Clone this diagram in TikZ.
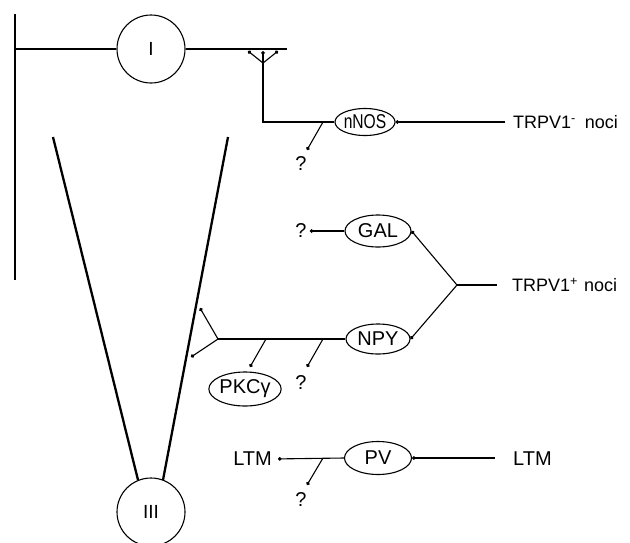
\documentclass[tikz,border=0pt]{standalone}
\usepackage{fontspec}
\setmainfont{Liberation Sans}
\usetikzlibrary{arrows.meta,shapes.geometric}
\begin{document}
\begin{tikzpicture}[x=1pt,y=-1pt,
  lbl/.style={font=\fontsize{20}{24}\selectfont, inner sep=0pt},
  trp/.style={font=\fontsize{18}{22}\selectfont, inner sep=0pt},
  oval/.style={ellipse, draw, line width=1.1pt, minimum width=66pt, minimum height=32pt, inner sep=0pt, font=\fontsize{20}{24}\selectfont},
  cell/.style={circle, draw, line width=1.1pt, minimum size=68pt, inner sep=0pt, font=\fontsize{19}{24}\selectfont},
  axon/.style={line width=2.3pt},
  fib/.style={line width=1.1pt},
  syn/.style={fib, -{Circle[length=3.6pt]}},
]
\useasboundingbox (0,0) rectangle (630,542);
% cells
\node[cell] (I) at (151,49) {I};
\node[cell] (III) at (151,512) {III};
% ovals
\node[oval, minimum width=44pt, minimum height=27pt] (nNOS) at (365,122) {\scalebox{0.78}[1]{nNOS}};
\node[oval] (GAL) at (378,231) {GAL};
\node[oval, minimum width=64pt, minimum height=30pt] (NPY) at (378,339) {NPY};
\node[oval, minimum height=34pt] (PKC) at (245,389) {PKCγ};
\node[oval, minimum width=67pt, minimum height=33pt] (PV) at (378,458) {PV};
% labels
\node[trp, anchor=west] (tneg) at (513,122) {TRPV1\textsuperscript{-}\hspace{9pt}noci};
\node[trp, anchor=west] (tpos) at (512,285) {TRPV1\textsuperscript{+}\hspace{6pt}noci};
\node[lbl] (q1) at (301,164) {?};
\node[lbl] (q2) at (301,231) {?};
\node[lbl] (q3) at (301,383) {?};
\node[lbl] (q4) at (301,500) {?};
\node[lbl, anchor=east] (ltmL) at (272,459) {LTM};
\node[lbl, anchor=west] (ltmR) at (513,459) {LTM};
% coordinates
\coordinate (L0) at (15,14);
\coordinate (L1) at (15,280);
\coordinate (Lh) at (15,49);
\coordinate (Rend) at (287,49);
\coordinate (wlt) at (53,137);
\coordinate (wlb) at (138,480);
\coordinate (wrt) at (228,137);
\coordinate (wrb) at (163,480);
\coordinate (tstem) at (263,63);
\coordinate (tbot) at (263,122);
\coordinate (t1) at (248,51);
\coordinate (t2) at (263,51);
\coordinate (t3) at (278,51);
\coordinate (nin) at (505,122);
\coordinate (nb) at (323,122);
\coordinate (ne) at (307,150);
\coordinate (fk) at (457,285);
\coordinate (fin) at (497,285);
\coordinate (yb) at (218,339);
\coordinate (ya) at (200,308);
\coordinate (yc) at (191,357);
\coordinate (pb) at (266,339);
\coordinate (pe) at (250,367);
\coordinate (qb) at (323,339);
\coordinate (qe) at (307,367);
\coordinate (pin) at (495,458);
\coordinate (vb) at (323,458);
\coordinate (ve) at (307,485);
% thick axons
\draw[axon] (L0) -- (L1);
\draw[axon] (Lh) -- (I.west);
\draw[axon] (I.east) -- (Rend);
\draw[axon] (wlt) -- (wlb);
\draw[axon] (wrt) -- (wrb);
% nNOS
\draw[fib] (nNOS.west) -- (tbot) -- (tstem);
\draw[syn] (tstem) -- (t1);
\draw[syn] (tstem) -- (t2);
\draw[syn] (tstem) -- (t3);
\draw[syn] (nin) -- (nNOS.east);
\draw[syn] (nb) -- (ne);
% GAL / NPY
\draw[syn, shorten >=3pt] (GAL.west) -- (q2.east);
\draw[fib] (fin) -- (fk);
\draw[syn] (fk) -- (GAL.east);
\draw[syn] (fk) -- (NPY.east);
\draw[fib] (NPY.west) -- (yb);
\draw[syn] (yb) -- (ya);
\draw[syn] (yb) -- (yc);
\draw[syn] (pb) -- (pe);
\draw[syn] (qb) -- (qe);
% PV
\draw[syn, shorten >=6pt] (PV.west) -- (ltmL.east);
\draw[syn] (pin) -- (PV.east);
\draw[syn] (vb) -- (ve);
\end{tikzpicture}
\end{document}
